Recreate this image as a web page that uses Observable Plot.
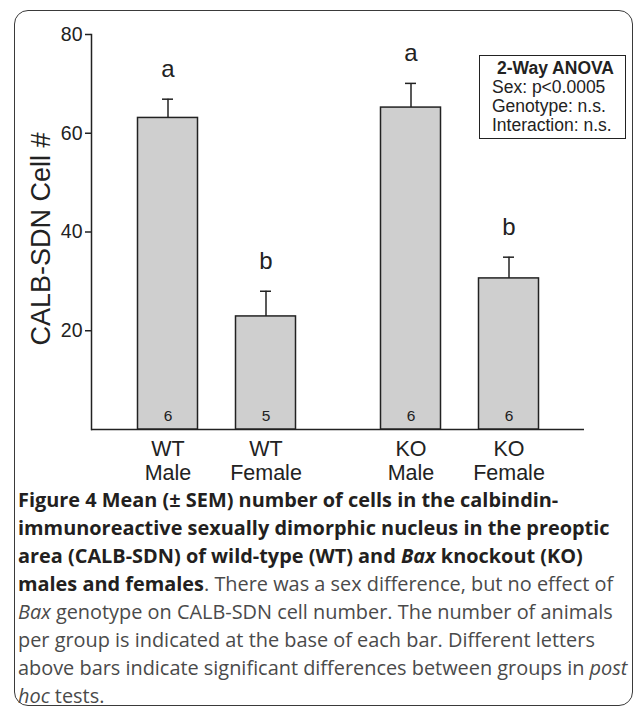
<!DOCTYPE html>
<html>
<head>
<meta charset="utf-8">
<script src="https://cdn.jsdelivr.net/npm/d3@7"></script>
<script src="https://cdn.jsdelivr.net/npm/@observablehq/plot@0.6"></script>
<style>
  html, body { margin: 0; padding: 0; background: #fff; }
  #wrap { position: relative; width: 636px; height: 709px; overflow: hidden; }
  .frame { position: absolute; left: 14px; top: 10px; width: 619px; height: 696px;
           border: 1.5px solid #3a3a3a; border-radius: 14px; box-sizing: border-box; }
  #chart { position: absolute; left: 0; top: 0; }
  .anova { position: absolute; left: 479px; top: 55px; width: 147px; height: 84px;
           border: 1.5px solid #222; box-sizing: border-box; background: #fff;
           font-family: "Liberation Sans", Arial, sans-serif; font-size: 17.5px; color: #222;
           line-height: 19px; padding: 3px 0 0 12px; white-space: nowrap; }
  .anova b { display: block; padding-left: 5px; }
  .caption { position: absolute; left: 18px; top: 486px; width: 615px;
             font-family: "Open Sans", "Noto Sans", sans-serif; font-size: 19.9px; line-height: 28px;
             color: #4a4a4a; white-space: nowrap; }
  .caption .b { font-weight: 700; color: #231f20; }
</style>
</head>
<body>
<div id="wrap">
  <div class="frame"></div>
  <div id="chart"></div>
  <div class="anova"><b>2-Way ANOVA</b>Sex: p&lt;0.0005<br>Genotype: n.s.<br>Interaction: n.s.</div>
  <div class="caption"><span class="b">Figure 4 Mean (± SEM) number of cells in the calbindin-<br>immunoreactive sexually dimorphic nucleus in the preoptic<br>area (CALB-SDN) of wild-type (WT) and <i>Bax</i> knockout (KO)<br>males and females</span>. There was a sex difference, but no effect of<br><i>Bax</i> genotype on CALB-SDN cell number. The number of animals<br>per group is indicated at the base of each bar. Different letters<br>above bars indicate significant differences between groups in <i>post</i><br><i>hoc</i> tests.</div>
</div>
<script>
// ---- data ----
const groups   = ["WT\nMale", "WT\nFemale", "KO\nMale", "KO\nFemale"];
const genotype = ["WT", "WT", "KO", "KO"];
const means    = [63.1, 22.9, 65.2, 30.6];
const sems     = [3.8, 5.1, 4.9, 4.3];
const counts   = [6, 5, 6, 6];
const letters  = ["a", "b", "a", "b"];
const yTicks   = [20, 40, 60, 80];
const yLabel   = "CALB-SDN Cell #";

const data = groups.map((g, i) => ({
  group: g, genotype: genotype[i], mean: means[i], sem: sems[i],
  top: means[i] + sems[i], n: counts[i], letter: letters[i]
}));

const ink = "#222";
const font = "Liberation Sans, Arial, sans-serif";
const shift = {WT: -23.5, KO: 23.5};

const chart = Plot.plot({
  width: 636,
  height: 490,
  marginTop: 34,
  marginBottom: 61,
  marginLeft: 91,
  marginRight: 52,
  style: {fontFamily: font, color: ink, background: "transparent"},
  x: {type: "band", domain: groups, paddingInner: 0.39, paddingOuter: 0.7},
  y: {domain: [0, 80]},
  marks: [
    Plot.frame({anchor: "left", stroke: ink, strokeWidth: 1.5}),
    Plot.ruleY([0], {stroke: ink, strokeWidth: 1.5}),
    Plot.axisY(yTicks, {tickSize: 6, tickPadding: 3, fontSize: 19.5, label: null, stroke: ink, strokeWidth: 1.5, fill: ink}),
    Plot.text([yLabel], {frameAnchor: "left", textAnchor: "middle", rotate: -90, dx: -50, dy: 7, fontSize: 27, fill: ink}),
    ...["WT", "KO"].flatMap(g => {
      const d = data.filter(r => r.genotype === g);
      const dx = shift[g];
      return [
        Plot.barY(d, {x: "group", y: "mean", fill: "#cfcfcf", stroke: ink, strokeWidth: 1.5, dx}),
        Plot.ruleX(d, {x: "group", y1: "mean", y2: "top", stroke: ink, strokeWidth: 1.5, dx}),
        Plot.tickY(d, {x: "group", y: "top", stroke: ink, strokeWidth: 1.5, insetLeft: 24.5, insetRight: 24.5, dx}),
        Plot.text(d, {x: "group", y: "top", text: "letter", dx, dy: -30, fontSize: 24, fill: ink, lineAnchor: "middle"}),
        Plot.text(d, {x: "group", y: 0, text: r => String(r.n), dx, dy: -13.5, fontSize: 15.5, fill: ink, lineAnchor: "middle"}),
        Plot.axisX(d.map(r => r.group), {tickSize: 0, tickPadding: 9, fontSize: 21.5, lineHeight: 1.12, dx, fill: ink, label: null})
      ];
    })
  ]
});
document.getElementById("chart").append(chart);
</script>
</body>
</html>
